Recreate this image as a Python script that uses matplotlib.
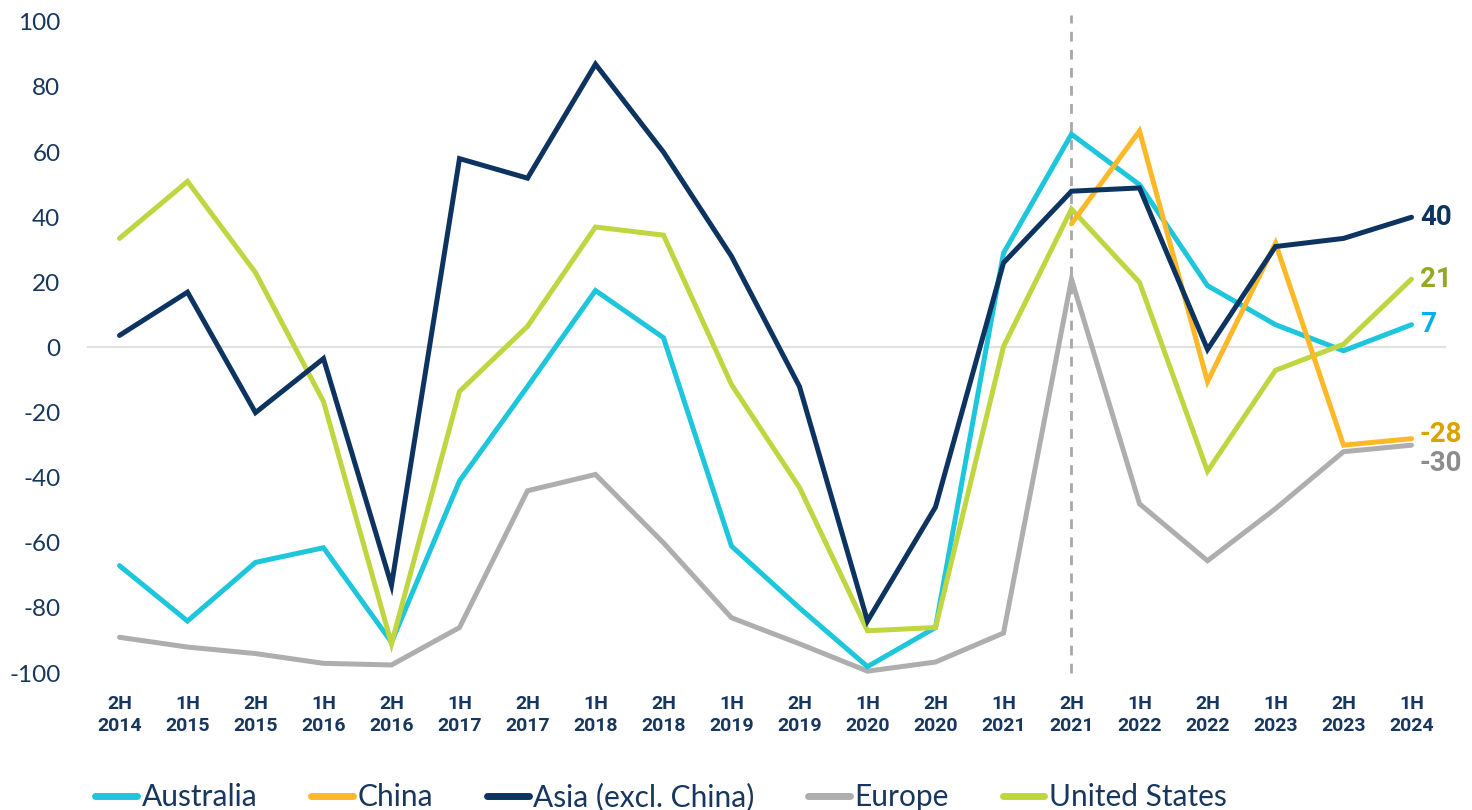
import numpy as np
import matplotlib
matplotlib.use("Agg")
import matplotlib.pyplot as plt

plt.rcParams["axes.unicode_minus"] = False

categories = ["2H\n2014", "1H\n2015", "2H\n2015", "1H\n2016", "2H\n2016", "1H\n2017",
              "2H\n2017", "1H\n2018", "2H\n2018", "1H\n2019", "2H\n2019", "1H\n2020",
              "2H\n2020", "1H\n2021", "2H\n2021", "1H\n2022", "2H\n2022", "1H\n2023",
              "2H\n2023", "1H\n2024"]
australia = [-67, -84, -66, -61.5, -90.5, -41, -12, 17.5, 3, -61, -80, -98, -86, 29, 65.5, 50, 19, 7, -1, 7]
china = [np.nan] * 14 + [38, 66.5, -10.5, 32, -30, -28]
asia = [3.7, 17, -20, -3.4, -73, 58, 52, 87, 60, 28, -12, -84, -49, 26, 48, 49, -0.6, 31, 33.5, 40]
europe = [-89, -92, -94, -97, -97.5, -86, -44, -39, -60, -83, -91, -99.4, -96.6, -87.7, 21, -48, -65.5, -49.5, -32, -30]
usa = [33.5, 51, 23, -16.6, -91, -13.5, 6.5, 37, 34.5, -11.4, -43, -87, -86, 0.3, 42.5, 20, -38, -7, 1, 21]

names = ["Australia", "China", "Asia (excl. China)", "Europe", "United States"]
series = [australia, china, asia, europe, usa]
colors = ["#1EC6DC", "#FDB827", "#0D3461", "#AEAEAE", "#BFD641"]
zorders = [4, 6, 7, 3, 5]
end_labels = ["7", "-28", "40", "-30", "21"]
end_colors = ["#00B0F0", "#D9A300", "#0D3461", "#8C8C8C", "#94A822"]
end_offsets = [0, 3, 0, -13, 0]
divider_index = 14

navy = "#17375E"
fig = plt.figure(figsize=(14.72, 8.10), dpi=100)
ax = fig.add_axes([0.059, 0.169, 0.923, 0.804])
x = np.arange(len(categories))

ax.axhline(0, color="#E2E2DC", lw=1.5, zorder=1)
ax.axvline(divider_index, ymin=0, ymax=1.01, color="#A8A8A8", lw=2, ls=(0, (3.5, 3)), zorder=2, clip_on=False)

lines = []
for name, vals, c, z in zip(names, series, colors, zorders):
    ln, = ax.plot(x, vals, color=c, lw=3.6, zorder=z, solid_capstyle="round",
                  solid_joinstyle="miter", label=name, clip_on=False)
    lines.append(ln)

for vals, lab, c, off in zip(series, end_labels, end_colors, end_offsets):
    ax.annotate(lab, xy=(x[-1], vals[-1]), xytext=(6, off), textcoords="offset points",
                ha="left", va="center", fontsize=20, fontweight="bold", color=c,
                family="Roboto", annotation_clip=False)

ax.set_xlim(-0.48, 19.5)
ax.set_ylim(-100, 100)
ax.set_yticks(np.arange(-100, 101, 20))
ax.set_xticks(x)
ax.set_xticklabels(categories, fontsize=14, fontweight="bold", color=navy,
                   family="Roboto", linespacing=1.25)
for lbl in ax.get_yticklabels():
    lbl.set_fontsize(17.5)
    lbl.set_color(navy)
    lbl.set_family("Lato")
ax.tick_params(axis="y", length=0, pad=19)
ax.tick_params(axis="x", length=0, pad=16)
for s in ax.spines.values():
    s.set_visible(False)

leg = fig.legend(handles=lines, labels=names, loc="center", ncol=5,
                 bbox_to_anchor=(0.449, 0.016), frameon=False,
                 prop={"family": "Lato", "size": 21.5}, handlelength=1.4,
                 handletextpad=0.15, columnspacing=1.8)
for t in leg.get_texts():
    t.set_color(navy)
for h in leg.legend_handles:
    h.set_linewidth(5)

fig.savefig("out.png", dpi=100)
